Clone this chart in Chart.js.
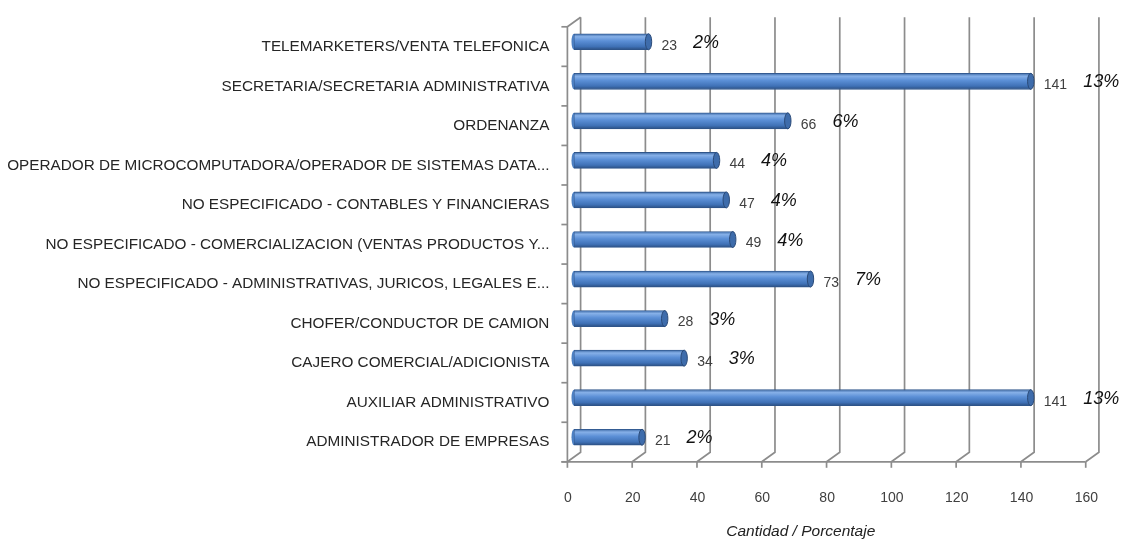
<!DOCTYPE html>
<html>
<head>
<meta charset="utf-8">
<script src="https://cdn.jsdelivr.net/npm/chart.js@4.4.1/dist/chart.umd.min.js"></script>
<style>
  html, body { margin: 0; padding: 0; background: #fff; }
  #wrap { width: 1137px; height: 541px; position: relative; }
</style>
</head>
<body>
<div id="wrap"><canvas id="chart"></canvas></div>
<script>
// categories, top to bottom as in the picture
const categories = [
  "TELEMARKETERS/VENTA TELEFONICA",
  "SECRETARIA/SECRETARIA ADMINISTRATIVA",
  "ORDENANZA",
  "OPERADOR DE MICROCOMPUTADORA/OPERADOR DE SISTEMAS DATA...",
  "NO ESPECIFICADO - CONTABLES Y FINANCIERAS",
  "NO ESPECIFICADO - COMERCIALIZACION (VENTAS PRODUCTOS Y...",
  "NO ESPECIFICADO - ADMINISTRATIVAS, JURICOS, LEGALES E...",
  "CHOFER/CONDUCTOR DE CAMION",
  "CAJERO COMERCIAL/ADICIONISTA",
  "AUXILIAR ADMINISTRATIVO",
  "ADMINISTRADOR DE EMPRESAS"
];
const counts = [23, 141, 66, 44, 47, 49, 73, 28, 34, 141, 21];
const percents = ["2%", "13%", "6%", "4%", "4%", "4%", "7%", "3%", "3%", "13%", "2%"];
const xTicks = [0, 20, 40, 60, 80, 100, 120, 140, 160];
const axisTitle = "Cantidad / Porcentaje";

// depth of the fake 3d box (half offsets)
const DX = 6.6, DY = 4.8;
const GRID = '#8c8c8c';
const FONT = '"Liberation Sans", Arial, sans-serif';

function barFill(c) {
  const chart = c.chart;
  const yS = chart.scales.y;
  if (!chart.chartArea || !yS) return '#4f81bd';
  const yc = yS.getPixelForValue(c.dataIndex);
  const g = chart.ctx.createLinearGradient(0, yc - 8, 0, yc + 8);
  g.addColorStop(0, '#3d6aa6');
  g.addColorStop(0.18, '#86b0e8');
  g.addColorStop(0.45, '#5b8fd6');
  g.addColorStop(0.8, '#3f71b6');
  g.addColorStop(1, '#2b4f82');
  return g;
}

// walls, floor, grid and labels around the bars
const boxPlugin = {
  id: 'box3d',
  beforeDatasetsDraw(chart) {
    const ctx = chart.ctx;
    const xS = chart.scales.x, yS = chart.scales.y;
    const top = chart.chartArea.top, bottom = chart.chartArea.bottom;
    ctx.save();
    ctx.strokeStyle = GRID;
    ctx.lineWidth = 1.7;
    xTicks.forEach(v => {
      const x = xS.getPixelForValue(v);
      ctx.beginPath();
      ctx.moveTo(x + DX, top - DY);
      ctx.lineTo(x + DX, bottom - DY);
      ctx.lineTo(x - DX, bottom + DY);
      ctx.stroke();
      // front tick
      ctx.beginPath();
      ctx.moveTo(x - DX, bottom + DY);
      ctx.lineTo(x - DX, bottom + DY + 6);
      ctx.stroke();
    });
    const x0 = xS.getPixelForValue(xTicks[0]);
    const x1 = xS.getPixelForValue(xTicks[xTicks.length - 1]);
    // front floor edge
    ctx.beginPath();
    ctx.moveTo(x0 - DX - 6, bottom + DY);
    ctx.lineTo(x1 - DX, bottom + DY);
    ctx.stroke();
    // left wall front edge + top
    ctx.beginPath();
    ctx.moveTo(x0 + DX, top - DY);
    ctx.lineTo(x0 - DX, top + DY);
    ctx.lineTo(x0 - DX, bottom + DY);
    ctx.stroke();
    // category ticks
    const step = (bottom - top) / categories.length;
    for (let i = 0; i <= categories.length; i++) {
      const y = top + i * step + DY;
      ctx.beginPath();
      ctx.moveTo(x0 - DX - 6, y);
      ctx.lineTo(x0 - DX, y);
      ctx.stroke();
    }
    // category labels
    ctx.font = '15.3px ' + FONT;
    ctx.fillStyle = '#262626';
    ctx.textAlign = 'right';
    ctx.textBaseline = 'middle';
    categories.forEach((c, i) => {
      ctx.fillText(c, x0 - DX - 18, yS.getPixelForValue(i) + 5);
    });
    ctx.restore();
  },
  afterDatasetsDraw(chart) {
    const ctx = chart.ctx;
    const meta = chart.getDatasetMeta(0);
    ctx.save();
    meta.data.forEach((bar, i) => {
      const h = bar.height / 2;
      // end cap of the cylinder
      ctx.beginPath();
      ctx.ellipse(bar.x, bar.y, 3.2, h, 0, 0, Math.PI * 2);
      ctx.fillStyle = '#3e6cab';
      ctx.fill();
      ctx.strokeStyle = '#2a4a78';
      ctx.lineWidth = 1;
      ctx.stroke();
      // left cap
      ctx.beginPath();
      ctx.ellipse(bar.base, bar.y, 2.5, h, 0, Math.PI / 2, Math.PI * 1.5);
      ctx.fillStyle = '#4c7fc2';
      ctx.fill();

      // value label
      ctx.font = '14px ' + FONT;
      ctx.fillStyle = '#404040';
      ctx.textAlign = 'left';
      ctx.textBaseline = 'middle';
      const txt = String(counts[i]);
      const lx = bar.x + 13;
      ctx.fillText(txt, lx, bar.y + 4);
      const w = ctx.measureText(txt).width;
      // percentage label
      ctx.font = 'italic 18px ' + FONT;
      ctx.fillStyle = '#111';
      ctx.fillText(percents[i], lx + w + 16, bar.y + 1);
    });
    // axis title
    const xS = chart.scales.x;
    ctx.font = 'italic 15.5px ' + FONT;
    ctx.fillStyle = '#222';
    ctx.textAlign = 'center';
    ctx.fillText(axisTitle, xS.getPixelForValue(70), 532);
    ctx.restore();
  }
};

new Chart(document.getElementById('chart'), {
  type: 'bar',
  data: {
    labels: categories,
    datasets: [{
      data: counts,
      backgroundColor: barFill,
      borderColor: '#2f558a',
      borderWidth: 0.8,
      borderSkipped: false,
      barThickness: 16
    }]
  },
  options: {
    indexAxis: 'y',
    responsive: true,
    maintainAspectRatio: false,
    animation: false,
    layout: { padding: { top: 22, right: 44, left: 0, bottom: 0 } },
    plugins: {
      legend: { display: false },
      tooltip: { enabled: false }
    },
    scales: {
      x: {
        min: 0,
        max: 160,
        grid: { display: false, drawTicks: false },
        border: { display: false },
        afterFit: s => { s.height = 84; },
        ticks: {
          stepSize: 20,
          padding: 33,
          labelOffset: -6,
          color: '#404040',
          font: { family: FONT, size: 14 }
        }
      },
      y: {
        grid: { display: false, drawTicks: false },
        border: { display: false },
        afterFit: s => { s.width = 574; },
        ticks: { display: false }
      }
    }
  },
  plugins: [boxPlugin]
});
</script>
</body>
</html>
